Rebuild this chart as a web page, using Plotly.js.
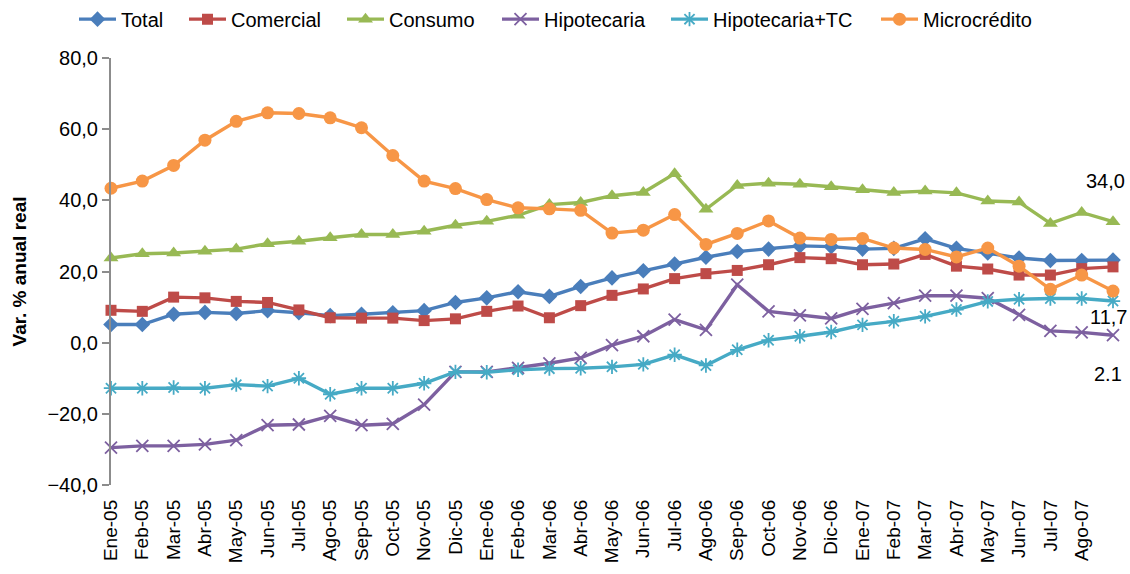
<!DOCTYPE html>
<html>
<head>
<meta charset="utf-8">
<script src="https://cdn.plot.ly/plotly-3.0.1.min.js"></script>
<style>
  html, body { margin: 0; padding: 0; background: #ffffff; }
  #chart { width: 1130px; height: 574px; }
</style>
</head>
<body>
<div id="chart"></div>
<script>
// Month labels on the category axis (the last observation has no label)
const months = ['Ene-05','Feb-05','Mar-05','Abr-05','May-05','Jun-05','Jul-05','Ago-05','Sep-05','Oct-05','Nov-05','Dic-05',
                'Ene-06','Feb-06','Mar-06','Abr-06','May-06','Jun-06','Jul-06','Ago-06','Sep-06','Oct-06','Nov-06','Dic-06',
                'Ene-07','Feb-07','Mar-07','Abr-07','May-07','Jun-07','Jul-07','Ago-07'];

// Real annual growth (%) by credit portfolio, 33 monthly observations
const total        = [5.1, 5.1, 8.0, 8.5, 8.2, 9.0, 8.4, 7.6, 8.0, 8.4, 9.0, 11.3, 12.6, 14.3, 13.0, 15.8, 18.2, 20.2, 22.1, 24.0, 25.6, 26.3, 27.2, 27.0, 26.3, 26.5, 29.2, 26.5, 25.2, 23.8, 23.1, 23.1, 23.2];
const comercial    = [9.1, 8.8, 12.8, 12.6, 11.6, 11.3, 9.2, 7.0, 6.9, 6.9, 6.2, 6.7, 8.8, 10.3, 7.0, 10.4, 13.3, 15.1, 18.0, 19.4, 20.3, 21.9, 23.9, 23.6, 21.9, 22.1, 24.8, 21.5, 20.7, 19.0, 19.0, 20.8, 21.3];
const consumo      = [23.8, 25.0, 25.2, 25.7, 26.3, 27.8, 28.5, 29.5, 30.4, 30.4, 31.3, 33.0, 34.1, 35.8, 38.8, 39.4, 41.3, 42.2, 47.5, 37.5, 44.2, 44.8, 44.5, 43.8, 43.0, 42.2, 42.6, 42.1, 39.8, 39.5, 33.5, 36.6, 34.0];
const hipotecaria  = [-29.5, -29.0, -29.0, -28.6, -27.4, -23.2, -23.0, -20.6, -23.2, -22.8, -17.4, -8.2, -8.2, -7.1, -5.8, -4.3, -0.7, 1.8, 6.5, 3.6, 16.3, 8.8, 7.7, 6.8, 9.5, 11.1, 13.2, 13.2, 12.5, 7.8, 3.3, 2.9, 2.1];
const hipotecariaTC = [-12.8, -12.8, -12.6, -12.8, -11.8, -12.2, -10.0, -14.5, -12.8, -12.8, -11.4, -8.2, -8.3, -7.6, -7.3, -7.2, -6.8, -6.1, -3.4, -6.4, -2.0, 0.7, 1.8, 3.0, 5.0, 6.0, 7.4, 9.3, 11.6, 12.2, 12.4, 12.4, 11.7];
const microcredito = [43.4, 45.4, 49.8, 56.9, 62.2, 64.6, 64.4, 63.2, 60.4, 52.6, 45.4, 43.3, 40.2, 37.9, 37.6, 37.2, 30.8, 31.6, 36.0, 27.6, 30.7, 34.2, 29.4, 29.0, 29.3, 26.6, 26.2, 24.1, 26.6, 21.5, 15.0, 19.0, 14.5];

// End-of-period value labels
const endLabelText = ['34,0', '11,7', '2.1'];

const FONT = '"Liberation Sans", Arial, Helvetica, sans-serif';
const AXIS_GREY = '#8c8c8c';
const PLOT_L = 111, PLOT_W = 1004;

const idx = total.map((v, i) => i);

function series(name, values, color, symbol, size, open, legendId) {
  const marker = { color: color, symbol: symbol, size: size };
  if (open) marker.line = { color: color, width: 1.8 };
  return {
    type: 'scatter', mode: 'lines+markers', name: name,
    x: idx, y: values,
    line: { color: color, width: 3.4 },
    marker: marker,
    cliponaxis: false,
    legend: legendId
  };
}

const traces = [
  series('Total', total, '#4a7ebb', 'diamond', 12, false, 'legend'),
  series('Comercial', comercial, '#be4b48', 'square', 11, false, 'legend2'),
  series('Consumo', consumo, '#98b954', 'triangle-up', 13, false, 'legend3'),
  series('Hipotecaria', hipotecaria, '#7d60a0', 'x-thin', 12, true, 'legend4'),
  series('Hipotecaria+TC', hipotecariaTC, '#46aac5', 'asterisk', 12, true, 'legend5'),
  series('Microcrédito', microcredito, '#f79646', 'circle', 13, false, 'legend6')
];

// one legend box per series, laid out along the top edge
const legendLeftPx = [74, 184, 342, 497, 666, 876];
function legendBox(px) {
  return {
    orientation: 'h', x: (px - PLOT_L) / PLOT_W, xanchor: 'left', y: 1.091, yanchor: 'middle',
    font: { family: FONT, size: 20, color: '#000000' },
    bgcolor: 'rgba(0,0,0,0)', borderwidth: 0, itemwidth: 37, itemclick: false
  };
}

const last = total.length - 1;
const yMin = -40, yMax = 80;

const layout = {
  width: 1130, height: 574,
  margin: { l: PLOT_L, r: 1130 - PLOT_L - PLOT_W, t: 58, b: 89, autoexpand: false },
  paper_bgcolor: '#ffffff', plot_bgcolor: '#ffffff',
  font: { family: FONT, size: 19, color: '#000000' },
  separators: ',.',
  showlegend: true,
  legend: legendBox(legendLeftPx[0]),
  legend2: legendBox(legendLeftPx[1]),
  legend3: legendBox(legendLeftPx[2]),
  legend4: legendBox(legendLeftPx[3]),
  legend5: legendBox(legendLeftPx[4]),
  legend6: legendBox(legendLeftPx[5]),
  xaxis: {
    type: 'linear', range: [0, last * PLOT_W / 1002],
    tickvals: months.map((m, i) => i), ticktext: months,
    tickangle: -90, ticks: '', showline: false, zeroline: false, showgrid: false,
    tickfont: { family: FONT, size: 19, color: '#000000' },
    ticklabelstandoff: 10,
    fixedrange: true
  },
  xaxis2: {
    overlaying: 'x', matches: 'x', anchor: 'free',
    position: (0 - yMin) / (yMax - yMin),
    tickvals: months.map((m, i) => i),
    showticklabels: false, showgrid: false, zeroline: false,
    showline: true, linecolor: AXIS_GREY, linewidth: 2,
    ticks: 'outside', ticklen: 6, tickwidth: 2, tickcolor: AXIS_GREY
  },
  yaxis: {
    range: [yMin, yMax], dtick: 20, tick0: 0, tickformat: '.1f',
    showline: true, linecolor: AXIS_GREY, linewidth: 2,
    ticks: 'outside', ticklen: 7, tickwidth: 2, tickcolor: AXIS_GREY,
    showgrid: false, zeroline: false,
    tickfont: { family: FONT, size: 20, color: '#000000' },
    title: { text: '<b>Var. % anual real</b>', font: { family: FONT, size: 19, color: '#000000' }, standoff: 16 },
    fixedrange: true
  },
  annotations: [
    { x: last, y: consumo[last], text: endLabelText[0], showarrow: false, xanchor: 'center', yanchor: 'middle', xshift: -8, yshift: 41 },
    { x: last, y: hipotecariaTC[last], text: endLabelText[1], showarrow: false, xanchor: 'center', yanchor: 'middle', xshift: -5, yshift: -16 },
    { x: last, y: hipotecaria[last], text: endLabelText[2], showarrow: false, xanchor: 'center', yanchor: 'middle', xshift: -5, yshift: -39 }
  ].map(a => Object.assign(a, { xref: 'x', yref: 'y', font: { family: FONT, size: 20, color: '#000000' } }))
};

Plotly.newPlot('chart', traces, layout, { displayModeBar: false, staticPlot: true });
</script>
</body>
</html>
